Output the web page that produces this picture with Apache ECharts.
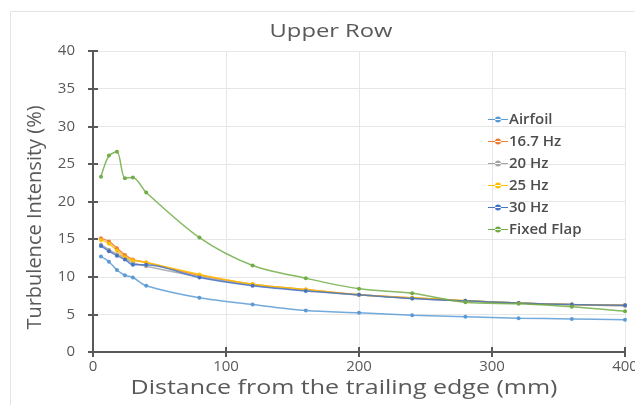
<!DOCTYPE html>
<html>
<head>
<meta charset="utf-8">
<script src="https://cdn.jsdelivr.net/npm/echarts@6/dist/echarts.min.js"></script>
<style>
  html, body { margin: 0; padding: 0; background: #ffffff; overflow: hidden; }
  #chart { width: 635px; height: 405px; }
</style>
</head>
<body>
<div id="chart"></div>
<script>
// Measurement stations downstream of the trailing edge (mm)
const distances = [6, 12, 18, 24, 30, 40, 80, 120, 160, 200, 240, 280, 320, 360, 400];

// Turbulence intensity (%) per configuration
const airfoil   = [12.7, 12.0, 10.9, 10.2, 9.9, 8.8, 7.2, 6.3, 5.5, 5.2, 4.9, 4.7, 4.5, 4.4, 4.3];
const hz167     = [15.1, 14.7, 13.8, 12.9, 12.3, 11.9, 10.2, 9.0, 8.3, 7.6, 7.2, 6.8, 6.5, 6.3, 6.2];
const hz20      = [14.3, 13.6, 13.0, 12.5, 11.9, 11.4, 10.0, 8.9, 8.2, 7.6, 7.1, 6.8, 6.5, 6.3, 6.1];
const hz25      = [14.9, 14.4, 13.5, 12.6, 12.2, 11.9, 10.3, 9.0, 8.3, 7.6, 7.2, 6.8, 6.5, 6.3, 6.2];
const hz30      = [14.1, 13.4, 12.8, 12.3, 11.6, 11.6, 9.9, 8.8, 8.1, 7.6, 7.1, 6.8, 6.5, 6.3, 6.2];
const fixedFlap = [23.3, 26.1, 26.6, 23.1, 23.2, 21.2, 15.2, 11.5, 9.8, 8.4, 7.8, 6.6, 6.4, 6.0, 5.4];

const seriesNames = ['Airfoil', '16.7 Hz', '20 Hz', '25 Hz', '30 Hz', 'Fixed Flap'];
const seriesValues = [airfoil, hz167, hz20, hz25, hz30, fixedFlap];
const seriesColors = ['#5B9BD5', '#ED7D31', '#A5A5A5', '#FFC000', '#4472C4', '#70AD47'];

const xTicks = [0, 100, 200, 300, 400];
const yTicks = [0, 5, 10, 15, 20, 25, 30, 35, 40];

const chartTitle = 'Upper Row';
const xAxisTitle = 'Distance from the trailing edge (mm)';
const yAxisTitle = 'Turbulence Intensity (%)';

const font = '"Open Sans", "DejaVu Sans", sans-serif';
const textColor = '#595959';

const chart = echarts.init(document.getElementById('chart'), null, { renderer: 'canvas' });

const series = seriesNames.map((name, i) => ({
  name: name,
  type: 'line',
  xAxisIndex: 0,
  yAxisIndex: 0,
  smooth: 0.3,
  symbol: 'circle',
  symbolSize: 4,
  data: distances.map((d, j) => [d, seriesValues[i][j]]),
  lineStyle: { width: 1.5, color: seriesColors[i], opacity: 0.85 },
  itemStyle: { color: seriesColors[i] },
  emphasis: { disabled: true }
}));

const axisLineStyle = { color: '#595959', width: 2 };

chart.setOption({
  animation: false,
  backgroundColor: '#ffffff',
  graphic: [{
    // chart-area frame
    type: 'rect',
    shape: { x: 10.5, y: 11.5, width: 640, height: 400 },
    style: { fill: 'none', stroke: '#e4e4e4', lineWidth: 1 },
    z: -10
  }, {
    // chart title (slightly wide lettering)
    type: 'text',
    x: 331,
    y: 32,
    scaleX: 1.25,
    style: {
      text: chartTitle,
      font: '19px ' + font,
      fill: textColor,
      align: 'center',
      verticalAlign: 'middle'
    }
  }, {
    // horizontal axis title
    type: 'text',
    x: 344,
    y: 388,
    scaleX: 1.25,
    style: {
      text: xAxisTitle,
      font: '20px ' + font,
      fill: textColor,
      align: 'center',
      verticalAlign: 'middle'
    }
  }],
  legend: {
    orient: 'vertical',
    left: 488,
    top: 112,
    padding: 0,
    itemGap: 7,
    itemWidth: 20,
    itemHeight: 17,
    icon: 'path://M0,8 L20,8 L20,9 L0,9 Z M7,8.5 A3,3 0 1,0 13,8.5 A3,3 0 1,0 7,8.5 Z',
    textStyle: { fontFamily: font, fontSize: 15, fontWeight: 600, color: '#4d4d4d', padding: [0, 0, 0, -4] },
    data: seriesNames
  },
  grid: { left: 93, right: 10, top: 51, bottom: 53, containLabel: false, outerBoundsMode: 'none' },
  xAxis: [{
    type: 'value',
    min: xTicks[0],
    max: xTicks[xTicks.length - 1],
    interval: 100,
    axisLine: { show: true, lineStyle: axisLineStyle },
    axisTick: { show: true, length: 5, lineStyle: axisLineStyle },
    axisLabel: { fontFamily: font, fontSize: 15, color: textColor, margin: 7 },
    splitLine: { show: true, lineStyle: { color: '#e6e6e6', width: 1 } }
  }, {
    type: 'value',
    position: 'bottom',
    min: xTicks[0],
    max: xTicks[xTicks.length - 1],
    interval: 100,
    axisLine: { show: false },
    axisTick: { show: true, inside: true, length: 5, lineStyle: axisLineStyle },
    axisLabel: { show: false },
    splitLine: { show: false }
  }],
  yAxis: [{
    type: 'value',
    min: yTicks[0],
    max: yTicks[yTicks.length - 1],
    interval: 5,
    name: yAxisTitle,
    nameLocation: 'middle',
    nameGap: 48,
    nameRotate: 90,
    nameTextStyle: { fontFamily: font, fontSize: 20, color: textColor, padding: [0, 0, 0, -32] },
    axisLine: { show: true, lineStyle: axisLineStyle },
    axisTick: { show: true, length: 5, lineStyle: axisLineStyle },
    axisLabel: { fontFamily: font, fontSize: 15, color: textColor, margin: 18 },
    splitLine: { show: true, lineStyle: { color: '#e6e6e6', width: 1 } }
  }, {
    type: 'value',
    position: 'left',
    min: yTicks[0],
    max: yTicks[yTicks.length - 1],
    interval: 5,
    axisLine: { show: false },
    axisTick: { show: true, inside: true, length: 5, lineStyle: axisLineStyle },
    axisLabel: { show: false },
    splitLine: { show: false }
  }],
  series: series
});
</script>
</body>
</html>
